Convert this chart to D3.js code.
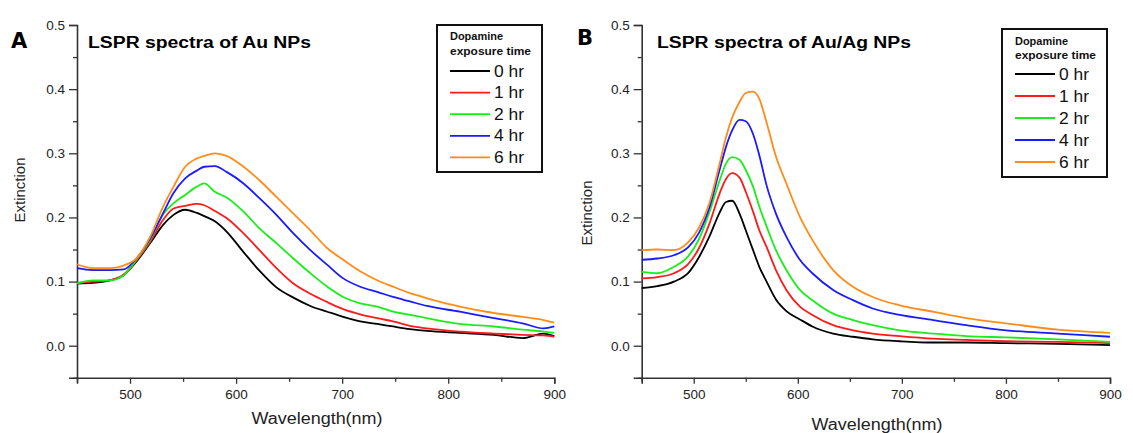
<!DOCTYPE html>
<html>
<head>
<meta charset="utf-8">
<script src="https://cdn.jsdelivr.net/npm/d3@7/dist/d3.min.js"></script>
<style>
  html, body { margin: 0; padding: 0; background: #fff; }
  svg { display: block; font-family: "Liberation Sans", Arial, sans-serif; }
</style>
</head>
<body>
<svg id="chart" width="1133" height="433"></svg>
<script>
// Wavelength (nm) sample positions for each panel
const wavelengthsA = [450, 465, 481, 494, 506, 519, 531, 541, 552, 563, 570, 580, 591, 607, 622, 638, 654, 670, 686, 701, 717, 733, 748, 764, 780, 811, 843, 870, 890, 900];
const wavelengthsB = [450, 465, 481, 495, 505, 515, 525, 531, 537, 544, 550, 557, 563, 570, 579, 589, 602, 614, 634, 653, 672, 698, 730, 762, 800, 850, 900];

const seriesNames = ["0 hr", "1 hr", "2 hr", "4 hr", "6 hr"];
const seriesColors = ["#000000", "#ff1a1a", "#1aee1a", "#1a1aff", "#ff8c1a"];

// Panel A: Au NPs extinction, one array per exposure time
const au0 = [0.097, 0.098, 0.102, 0.110, 0.131, 0.160, 0.188, 0.204, 0.212, 0.207, 0.202, 0.194, 0.178, 0.146, 0.117, 0.091, 0.075, 0.062, 0.053, 0.045, 0.038, 0.034, 0.030, 0.026, 0.023, 0.020, 0.017, 0.012, 0.019, 0.015];
const au1 = [0.098, 0.100, 0.102, 0.111, 0.133, 0.162, 0.196, 0.214, 0.218, 0.221, 0.219, 0.210, 0.199, 0.175, 0.149, 0.121, 0.097, 0.081, 0.068, 0.057, 0.049, 0.043, 0.038, 0.031, 0.027, 0.022, 0.019, 0.017, 0.016, 0.014];
const au2 = [0.097, 0.102, 0.102, 0.110, 0.134, 0.165, 0.204, 0.222, 0.235, 0.248, 0.253, 0.240, 0.231, 0.209, 0.183, 0.160, 0.136, 0.113, 0.092, 0.076, 0.066, 0.061, 0.053, 0.048, 0.043, 0.034, 0.030, 0.025, 0.022, 0.020];
const au4 = [0.121, 0.118, 0.118, 0.119, 0.136, 0.167, 0.206, 0.238, 0.261, 0.273, 0.279, 0.280, 0.271, 0.253, 0.230, 0.204, 0.175, 0.149, 0.126, 0.105, 0.092, 0.084, 0.076, 0.069, 0.062, 0.053, 0.043, 0.035, 0.027, 0.030];
const au6 = [0.127, 0.121, 0.121, 0.125, 0.136, 0.170, 0.216, 0.248, 0.279, 0.292, 0.296, 0.300, 0.296, 0.279, 0.258, 0.232, 0.206, 0.180, 0.152, 0.134, 0.116, 0.102, 0.092, 0.082, 0.074, 0.061, 0.051, 0.045, 0.040, 0.036];

// Panel B: Au/Ag NPs extinction, one array per exposure time
const ag0 = [0.090, 0.093, 0.100, 0.114, 0.138, 0.170, 0.208, 0.224, 0.226, 0.206, 0.180, 0.149, 0.123, 0.100, 0.072, 0.054, 0.041, 0.030, 0.019, 0.014, 0.010, 0.007, 0.005, 0.005, 0.004, 0.003, 0.001];
const ag1 = [0.105, 0.107, 0.113, 0.128, 0.152, 0.190, 0.238, 0.260, 0.269, 0.262, 0.240, 0.209, 0.180, 0.154, 0.118, 0.087, 0.061, 0.048, 0.032, 0.024, 0.019, 0.015, 0.011, 0.009, 0.007, 0.006, 0.004];
const ag2 = [0.115, 0.113, 0.123, 0.140, 0.166, 0.208, 0.258, 0.284, 0.294, 0.290, 0.274, 0.248, 0.217, 0.186, 0.149, 0.118, 0.087, 0.071, 0.050, 0.040, 0.032, 0.024, 0.019, 0.015, 0.013, 0.010, 0.006];
const ag4 = [0.134, 0.136, 0.141, 0.154, 0.176, 0.215, 0.275, 0.310, 0.336, 0.352, 0.350, 0.330, 0.297, 0.250, 0.206, 0.170, 0.134, 0.113, 0.087, 0.071, 0.058, 0.048, 0.040, 0.032, 0.024, 0.019, 0.014];
const ag6 = [0.149, 0.150, 0.149, 0.162, 0.184, 0.222, 0.285, 0.325, 0.356, 0.380, 0.394, 0.396, 0.385, 0.348, 0.295, 0.253, 0.201, 0.165, 0.118, 0.092, 0.076, 0.063, 0.053, 0.043, 0.035, 0.025, 0.020];

const yMajorTicks = [0.0, 0.1, 0.2, 0.3, 0.4, 0.5];
const yMinorTicks = [-0.05, 0.05, 0.15, 0.25, 0.35, 0.45];
const xMajorTicks = [500, 600, 700, 800, 900];
const xMinorTicks = [450, 550, 650, 750, 850];

const legendTitle = ["Dopamine", "exposure time"];

const panels = [
  {
    letter: "A", title: "LSPR spectra of Au NPs", titleWidth: 223,
    x: wavelengthsA, series: [au0, au1, au2, au4, au6],
    left: 77, right: 554.3,
    letterPos: [11, 48], titlePos: [88, 48],
    yLabelPos: [19, 190], xLabelPos: [317, 418],
    legend: { x: 437, y: 25, w: 105, h: 147, titleY: [40, 55], rowY0: 71, rowStep: 21.6, lineX: 450, textX: 494 }
  },
  {
    letter: "B", title: "LSPR spectra of Au/Ag NPs", titleWidth: 254,
    x: wavelengthsB, series: [ag0, ag1, ag2, ag4, ag6],
    left: 641.7, right: 1110,
    letterPos: [577, 45], titlePos: [657, 48],
    yLabelPos: [586, 213], xLabelPos: [877, 424],
    legend: { x: 1002, y: 29, w: 105, h: 148, titleY: [45, 59], rowY0: 74, rowStep: 22, lineX: 1015, textX: 1059 }
  }
];

const svg = d3.select("#chart");
const axisColor = "#333";

panels.forEach(p => {
  const g = svg.append("g");
  const x = d3.scaleLinear().domain([450, 900]).range([p.left, p.right]);
  const y = d3.scaleLinear().domain([-0.05, 0.5]).range([377.8, 25]);

  // y axis: major + minor ticks
  g.append("g").attr("transform", `translate(${p.left},0)`)
    .call(d3.axisLeft(y).tickValues(yMajorTicks).tickFormat(d3.format(".1f")).tickSize(8).tickPadding(4));
  g.append("g").attr("transform", `translate(${p.left},0)`)
    .call(d3.axisLeft(y).tickValues(yMinorTicks).tickFormat("").tickSize(4))
    .select(".domain").remove();

  // x axis: major + minor ticks
  g.append("g").attr("transform", `translate(0,${y(-0.05)})`)
    .call(d3.axisBottom(x).tickValues(xMajorTicks).tickSize(6).tickPadding(6));
  g.append("g").attr("transform", `translate(0,${y(-0.05)})`)
    .call(d3.axisBottom(x).tickValues(xMinorTicks).tickFormat("").tickSize(4))
    .select(".domain").remove();

  g.selectAll(".domain").attr("stroke", axisColor).attr("stroke-width", 1.6);
  g.selectAll(".tick line").attr("stroke", axisColor).attr("stroke-width", 1.3);
  g.selectAll(".tick text").attr("fill", "#222").style("font-size", "13.5px")
    .style("font-family", "'Liberation Sans', Arial, sans-serif");

  // spectra
  const line = d3.line()
    .x((d, i) => x(p.x[i]))
    .y(d => y(d))
    .curve(d3.curveMonotoneX);
  p.series.forEach((s, k) => {
    g.append("path").datum(s)
      .attr("fill", "none")
      .attr("stroke", seriesColors[k])
      .attr("stroke-width", 1.8)
      .attr("d", line);
  });

  // panel letter and title
  g.append("text").attr("x", p.letterPos[0]).attr("y", p.letterPos[1])
    .style("font-size", "21px").style("font-weight", "900")
    .style("font-family", "'DejaVu Sans', sans-serif").text(p.letter);
  g.append("text").attr("x", p.titlePos[0]).attr("y", p.titlePos[1])
    .attr("textLength", p.titleWidth).attr("lengthAdjust", "spacingAndGlyphs")
    .style("font-size", "16px").style("font-weight", "bold").text(p.title);

  // axis titles
  g.append("text")
    .attr("transform", `translate(${p.yLabelPos[0]},${p.yLabelPos[1]}) rotate(-90)`)
    .attr("text-anchor", "middle").attr("dominant-baseline", "central")
    .style("font-size", "15px").attr("fill", "#222").text("Extinction");
  g.append("text").attr("x", p.xLabelPos[0]).attr("y", p.xLabelPos[1])
    .attr("text-anchor", "middle").attr("dominant-baseline", "central")
    .attr("textLength", 131).attr("lengthAdjust", "spacingAndGlyphs")
    .style("font-size", "16px").attr("fill", "#222").text("Wavelength(nm)");

  // legend
  const L = p.legend;
  const lg = g.append("g");
  lg.append("rect").attr("x", L.x).attr("y", L.y).attr("width", L.w).attr("height", L.h)
    .attr("fill", "#fff").attr("stroke", "#111").attr("stroke-width", 2);
  legendTitle.forEach((t, i) => {
    lg.append("text").attr("x", L.lineX).attr("y", L.titleY[i])
      .attr("textLength", i === 0 ? 53 : 81).attr("lengthAdjust", "spacingAndGlyphs")
      .style("font-size", "11.5px").style("font-weight", "bold").attr("fill", "#111").text(t);
  });
  seriesNames.forEach((n, k) => {
    const ry = L.rowY0 + k * L.rowStep;
    lg.append("line").attr("x1", L.lineX).attr("x2", L.lineX + 40).attr("y1", ry).attr("y2", ry)
      .attr("stroke", seriesColors[k]).attr("stroke-width", 1.8);
    lg.append("text").attr("x", L.textX).attr("y", ry).attr("dominant-baseline", "central")
      .attr("textLength", 30).attr("lengthAdjust", "spacingAndGlyphs")
      .style("font-size", "17px").attr("fill", "#111").text(n);
  });
});
</script>
</body>
</html>
